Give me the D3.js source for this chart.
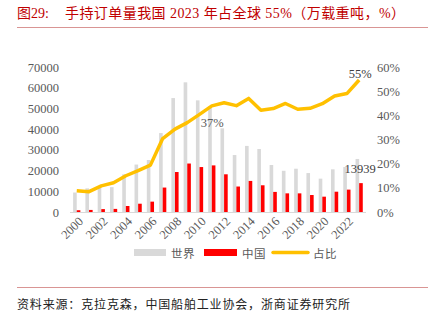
<!DOCTYPE html>
<html><head><meta charset="utf-8">
<script src="https://cdn.jsdelivr.net/npm/d3@7/dist/d3.min.js"></script>
<style>body{margin:0;background:#fff}svg{display:block}</style>
</head><body>
<script>
const years = d3.range(2000, 2024);
const world = [9400,11400,12100,12000,18200,22900,25100,38100,55000,62600,53900,51000,40400,27500,31900,30400,22700,19900,20900,18800,16100,20600,21700,25600];
const china = [850,1000,1400,1500,2900,4000,5000,11800,19300,23400,21700,22500,18200,12300,15000,12900,9700,9000,9000,8200,7400,9800,10800,13939];
const share = [0.088,0.084,0.108,0.121,0.150,0.171,0.194,0.304,0.343,0.370,0.404,0.439,0.452,0.440,0.470,0.421,0.428,0.449,0.425,0.429,0.448,0.480,0.490,0.546];
const leftTicks = [0,10000,20000,30000,40000,50000,60000,70000];
const rightTicks = [0,0.1,0.2,0.3,0.4,0.5,0.6];
const yearTicks = d3.range(2000, 2024, 2);
const seriesNames = ["世界","中国","占比"];
const title1 = "图29:";
const title2 = "手持订单量我国 2023 年占全球 55%（万载重吨，%）";
const source = "资料来源：克拉克森，中国船舶工业协会，浙商证券研究所";

const W = 436, H = 324;
const svg = d3.select("body").append("svg").attr("width", W).attr("height", H);
const serif = "'Liberation Serif','Noto Sans CJK SC',serif";
const cjk = "'Noto Sans CJK SC','Liberation Serif',sans-serif";

const x = d3.scaleBand().domain(years).range([70.6, 365.3]).padding(0);
const xs = d3.scaleBand().domain(["w","c"]).range([0, x.bandwidth()]).paddingInner(0).paddingOuter(0.7);
const yL = d3.scaleLinear().domain([0, 70000]).range([212, 67]);
const yR = d3.scaleLinear().domain([0, 0.6]).range([212, 67]);
const cx = d => x(d) + x.bandwidth()/2;

// title
svg.append("text").attr("x", 17).attr("y", 13).attr("dominant-baseline","central")
  .attr("font-family", serif).attr("font-size", 14).attr("fill", "#C00000").text(title1);
svg.append("text").attr("x", 65).attr("y", 13).attr("dominant-baseline","central")
  .attr("font-family", serif).attr("font-size", 14).attr("fill", "#C00000")
  .attr("textLength", 340).attr("lengthAdjust","spacing").text(title2);
svg.append("line").attr("x1",17).attr("x2",428).attr("y1",27.5).attr("y2",27.5)
  .attr("stroke","#D99594").attr("stroke-width",1.2);

// bars
svg.append("g").selectAll("rect.w").data(years).join("rect")
  .attr("x", d => x(d) + xs("w")).attr("width", xs.bandwidth())
  .attr("y", (d,i) => yL(world[i])).attr("height", (d,i) => yL(0) - yL(world[i]))
  .attr("fill", "#D9D9D9");
svg.append("g").selectAll("rect.c").data(years).join("rect")
  .attr("x", d => x(d) + xs("c")).attr("width", xs.bandwidth())
  .attr("y", (d,i) => yL(china[i])).attr("height", (d,i) => yL(0) - yL(china[i]))
  .attr("fill", "#FF0000");

// baseline
svg.append("line").attr("x1", 70).attr("x2", 366).attr("y1", yL(0)+0.5).attr("y2", yL(0)+0.5)
  .attr("stroke", "#D9D9D9").attr("stroke-width", 1);

// line
const line = d3.line().x((d,i) => cx(years[i])).y(d => yR(d));
svg.append("path").datum(share).attr("d", line).attr("fill","none")
  .attr("stroke","#FFC000").attr("stroke-width",3.5).attr("stroke-linejoin","round");

// left axis
const gL = svg.append("g").attr("transform","translate(66,0)")
  .call(d3.axisLeft(yL).tickValues(leftTicks).tickSize(0).tickPadding(7).tickFormat(d3.format("d")));
gL.select(".domain").remove();
gL.selectAll("text").attr("font-family", serif).attr("font-size", 12.5).attr("fill","#595959");

// right axis
const gR = svg.append("g").attr("transform","translate(370,0)")
  .call(d3.axisRight(yR).tickValues(rightTicks).tickSize(0).tickPadding(7).tickFormat(d3.format(".0%")));
gR.select(".domain").remove();
gR.selectAll("text").attr("font-family", serif).attr("font-size", 12.5).attr("fill","#595959");

// x axis labels
svg.append("g").selectAll("text").data(yearTicks).join("text")
  .attr("transform", d => `translate(${cx(d)+4},${219}) rotate(-45)`)
  .attr("text-anchor","end").attr("dy","0.35em")
  .attr("font-family", serif).attr("font-size", 12.5).attr("fill","#595959").text(d => d);

// data labels
const i09 = years.indexOf(2009), i23 = years.indexOf(2023);
svg.append("text").attr("x", cx(2009)+25).attr("y", yR(share[i09])).attr("dy","0.35em")
  .attr("text-anchor","middle").attr("font-family", serif).attr("font-size",12.5).attr("fill","#595959")
  .text(d3.format(".0%")(share[i09]));
svg.append("text").attr("x", cx(2023)+1).attr("y", yR(share[i23])-6).attr("dy","0.35em")
  .attr("text-anchor","middle").attr("font-family", serif).attr("font-size",12.5).attr("fill","#404040")
  .text(d3.format(".0%")(share[i23]));
svg.append("text").attr("x", cx(2023)+1).attr("y", yL(china[i23])-15).attr("dy","0.35em")
  .attr("text-anchor","middle").attr("font-family", serif).attr("font-size",12.5).attr("fill","#404040")
  .text(china[i23]);

// legend
const lg = svg.append("g");
lg.append("rect").attr("x",134).attr("y",249).attr("width",32).attr("height",7).attr("fill","#D9D9D9");
lg.append("rect").attr("x",204).attr("y",249).attr("width",33).attr("height",7).attr("fill","#FF0000");
lg.append("line").attr("x1",273).attr("x2",308).attr("y1",252.5).attr("y2",252.5)
  .attr("stroke","#FFC000").attr("stroke-width",3.5).attr("stroke-linecap","round");
[[171,0],[242,1],[313,2]].forEach(([lx,k]) => {
  lg.append("text").attr("x",lx).attr("y",252.5).attr("dominant-baseline","central")
    .attr("font-family", cjk).attr("font-size",11.5).attr("fill","#595959")
    .attr("letter-spacing","0.5px").text(seriesNames[k]);
});

// footer
svg.append("line").attr("x1",17).attr("x2",428).attr("y1",287.5).attr("y2",287.5)
  .attr("stroke","#D99594").attr("stroke-width",1.2);
svg.append("text").attr("x",17).attr("y",303.5).attr("dominant-baseline","central")
  .attr("font-family", cjk).attr("font-size",12).attr("fill","#222")
  .attr("textLength",333).attr("lengthAdjust","spacing").text(source);
</script>
</body></html>
